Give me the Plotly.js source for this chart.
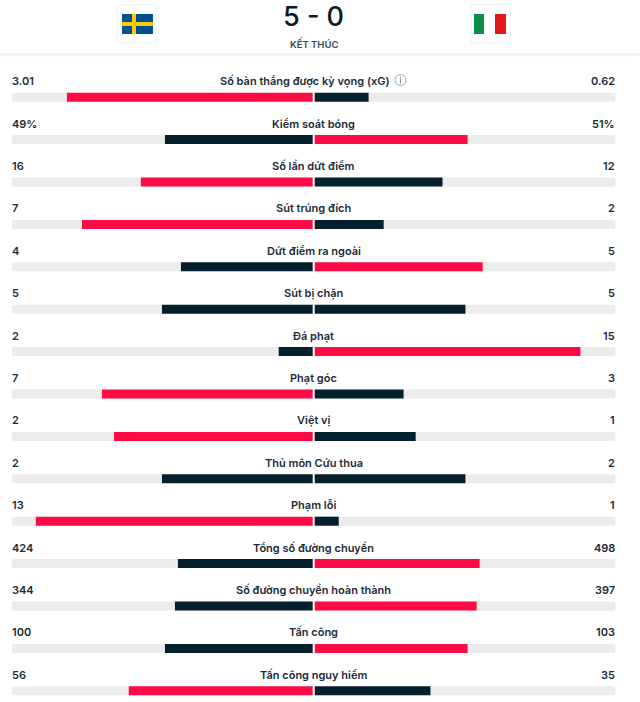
<!DOCTYPE html>
<html><head><meta charset="utf-8">
<script src="https://cdn.plot.ly/plotly-3.0.1.min.js"></script>
<style>html,body{margin:0;padding:0;background:#fff}#c{width:640px;height:702px}</style>
</head><body><div id="c"></div>
<script>
const categories=["Số bàn thắng được kỳ vọng (xG)","Kiểm soát bóng","Số lần dứt điểm","Sút trúng đích","Dứt điểm ra ngoài","Sút bị chặn","Đá phạt","Phạt góc","Việt vị","Thủ môn Cứu thua","Phạm lỗi","Tổng số đường chuyền","Số đường chuyền hoàn thành","Tấn công","Tấn công nguy hiểm"];
const homeLabels=["3.01","49%","16","7","4","5","2","7","2","2","13","424","344","100","56"];
const awayLabels=["0.62","51%","12","2","5","5","15","3","1","2","1","498","397","103","35"];
const homeShare=[0.818,0.493,0.573,0.768,0.44,0.503,0.116,0.702,0.662,0.503,0.921,0.45,0.46,0.493,0.613];
const awayShare=[0.182,0.51,0.427,0.232,0.56,0.503,0.884,0.298,0.338,0.503,0.083,0.55,0.54,0.51,0.387];
const homeLeads=[1,0,1,1,0,0,0,1,1,0,1,0,0,0,1];
const awayLeads=[0,1,0,0,1,0,1,0,0,0,0,1,1,1,0];
const RED="#ff0a45",DARK="#04202c",TRACK="#ececec",INK="#1c2b38";
const rows=categories.map((_,i)=>i);
const homeCol=homeLeads.map(v=>v?RED:DARK);
const awayCol=awayLeads.map(v=>v?RED:DARK);
const bar=(x,col)=>({type:"bar",orientation:"h",y:rows,x:x,width:0.213,marker:{color:col,line:{width:0}},hoverinfo:"skip"});
const traces=[
 bar(rows.map(()=>-1),TRACK),bar(rows.map(()=>1),TRACK),
 bar(homeShare.map(v=>-v),homeCol),bar(awayShare,awayCol)
];
const font=(s,w,c)=>({family:"Inter, Roboto, sans-serif",size:s,weight:w||600,color:c||INK});
const PW=640,PH=702,CX=313.7,UNIT=301.7,Y0=97.2,PITCH=42.4,LS=16;
const ann=[];
rows.forEach(i=>{
 ann.push({x:-1,y:i,xref:"x",yref:"y",text:homeLabels[i],showarrow:false,xanchor:"left",yanchor:"middle",yshift:LS,xshift:-2,font:font(11)});
 ann.push({x:1,y:i,xref:"x",yref:"y",text:awayLabels[i],showarrow:false,xanchor:"right",yanchor:"middle",yshift:LS,xshift:2,font:font(11)});
 ann.push({x:0,y:i,xref:"x",yref:"y",text:categories[i],showarrow:false,xanchor:"center",yanchor:"middle",yshift:LS,xshift:i===0?-8.5:0,font:font(11)});
});
const px=x=>x/PW, py=y=>1-y/PH;
ann.push({x:px(313.7),y:py(16.5),xref:"paper",yref:"paper",text:"5 - 0",showarrow:false,xanchor:"center",yanchor:"middle",font:font(27,500,"#0b1a24")});
ann.push({x:px(313.7),y:py(43),xref:"paper",yref:"paper",text:"KẾT THÚC",showarrow:false,xanchor:"center",yanchor:"middle",font:font(9.5,600,"#3a4853")});
const rect=(x0,y0,x1,y1,c)=>({type:"rect",xref:"paper",yref:"paper",x0:px(x0),x1:px(x1),y0:py(y0),y1:py(y1),fillcolor:c,line:{width:0},layer:"above"});
const box=(x0,x1)=>({type:"rect",xref:"paper",yref:"paper",x0:px(x0),x1:px(x1),y0:py(4.5),y1:py(43),fillcolor:"#fff",line:{color:"#f1f1f1",width:1},layer:"below"});
const shapes=[
 rect(0,53,640,54,"#f6f6f6"),rect(0,54,640,55,"#eeeeee"),rect(0,55,640,56,"#f5f5f5"),rect(0,56,632,57,"#fafafa"),
 box(117,156),box(471,510),
 rect(122,14,153,34,"#005293"),rect(122,22,153,26,"#fecb00"),rect(132,14,136,34,"#fecb00"),
 rect(474,14,484,34,"#0a8f46"),rect(484,14,495,34,"#ffffff"),rect(495,14,506,34,"#e01a1a"),
 {type:"circle",xref:"paper",yref:"paper",x0:px(395),x1:px(406),y0:py(74.5),y1:py(85.5),line:{color:"#a4a8ab",width:1},fillcolor:"rgba(0,0,0,0)",layer:"above"},
 rect(400,78.5,401,83.5,"#8a8f94"),rect(400,76.5,401,77.5,"#8a8f94"),
 {type:"line",xref:"x",yref:"paper",x0:0,x1:0,y0:0,y1:py(70),line:{color:"#ffffff",width:2},layer:"above"}
];
Plotly.newPlot("c",traces,{
 width:PW,height:PH,margin:{l:0,r:0,t:0,b:0},paper_bgcolor:"#fff",plot_bgcolor:"#fff",
 barmode:"overlay",barcornerradius:2,showlegend:false,
 xaxis:{range:[-CX/UNIT,(PW-CX)/UNIT],visible:false,fixedrange:true},
 yaxis:{range:[(PH-Y0)/PITCH,-Y0/PITCH],visible:false,fixedrange:true},
 annotations:ann,shapes:shapes
},{displayModeBar:false,staticPlot:true});
</script></body></html>
